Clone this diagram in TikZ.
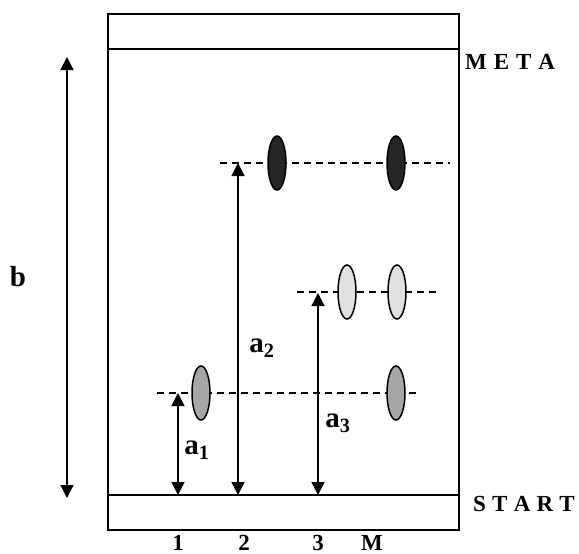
\documentclass[tikz,border=0pt]{standalone}
\usepackage{fontspec}
\setmainfont{Liberation Serif}
\usetikzlibrary{arrows.meta,shapes.geometric}
\definecolor{spotdark}{HTML}{262626}
\definecolor{spotmid}{HTML}{A6A6A6}
\definecolor{spotlight}{HTML}{E0E0E0}
\begin{document}
\begin{tikzpicture}[x=1pt,y=-1pt,
 spot/.style={ellipse,draw,line width=1.5pt,minimum width=18pt,minimum height=54pt,inner sep=0pt},
 lbl/.style={font=\fontsize{29}{29}\selectfont\bfseries,inner sep=0pt},
 side/.style={font=\fontsize{23}{23}\selectfont\bfseries,inner sep=0pt,anchor=west},
 num/.style={font=\fontsize{23}{23}\selectfont\bfseries,inner sep=0pt,anchor=base},
 arr/.style={line width=1.3pt,{Triangle[width=13pt,length=13pt]}-{Triangle[width=13pt,length=13pt]}},
 guide/.style={line width=1.2pt,dash pattern=on 7pt off 5pt}]
\useasboundingbox (0,0) rectangle (579,554);
% plate
\draw[line width=2pt] (108,14) rectangle (459,530);
\coordinate (metaL) at (108,49); \coordinate (metaR) at (459,49);
\coordinate (startL) at (108,495); \coordinate (startR) at (459,495);
\draw[line width=2pt] (metaL) -- (metaR);
\draw[line width=2pt] (startL) -- (startR);
% dashed guide lines
\coordinate (g2L) at (220,163); \coordinate (g2R) at (450,163);
\coordinate (g3L) at (297,292); \coordinate (g3R) at (437,292);
\coordinate (g1L) at (157,393); \coordinate (g1R) at (416,393);
\draw[guide] (g2L) -- (g2R);
\draw[guide] (g3L) -- (g3R);
\draw[guide] (g1L) -- (g1R);
% spots
\node[spot,fill=spotdark] (s2) at (277,163) {};
\node[spot,fill=spotdark] (m2) at (396,163) {};
\node[spot,fill=spotlight] (s3) at (347,292) {};
\node[spot,fill=spotlight] (m3) at (397,292) {};
\node[spot,fill=spotmid] (s1) at (201,393) {};
\node[spot,fill=spotmid] (m1) at (396,393) {};
% arrows
\coordinate (a1b) at (178,495); \coordinate (a1t) at (178,393);
\coordinate (a2b) at (238,495); \coordinate (a2t) at (238,163);
\coordinate (a3b) at (318,495); \coordinate (a3t) at (318,293);
\coordinate (bb) at (67,498); \coordinate (bt) at (67,57);
\draw[arr] (a1b) -- (a1t);
\draw[arr] (a2b) -- (a2t);
\draw[arr] (a3b) -- (a3t);
\draw[arr] (bb) -- (bt);
% labels
\node[lbl] (la1) at (197,450) {a\textsubscript{1}};
\node[lbl] (la2) at (262,348) {a\textsubscript{2}};
\node[lbl] (la3) at (338,423) {a\textsubscript{3}};
\node[lbl] (lb) at (18,277) {b};
\node[side] (meta) at (465,62) {M\hspace{0.3em}E\hspace{0.3em}T\hspace{0.3em}A};
\node[side] (start) at (473,504) {S\hspace{0.27em}T\hspace{0.27em}A\hspace{0.27em}R\hspace{0.27em}T};
\node[num] (n1) at (178,550) {1};
\node[num] (n2) at (244,550) {2};
\node[num] (n3) at (318,550) {3};
\node[num] (nM) at (372,550) {M};
\end{tikzpicture}
\end{document}
